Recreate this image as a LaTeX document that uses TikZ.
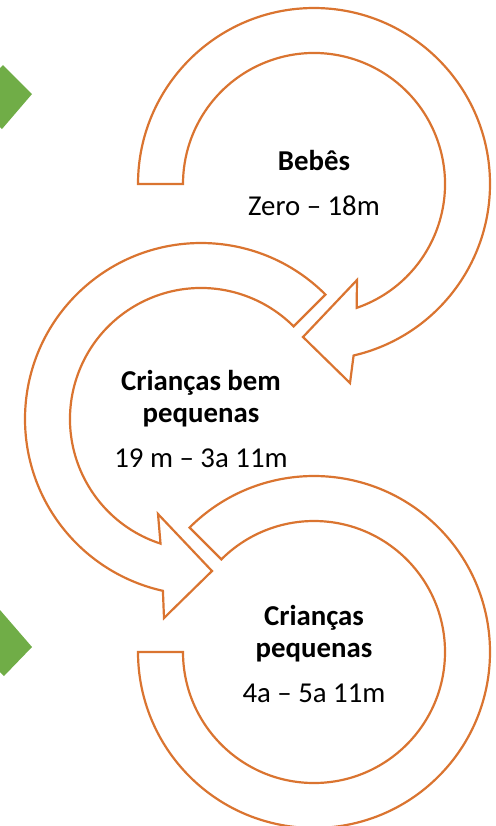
\documentclass[tikz,border=0pt]{standalone}
\usepackage{fontspec}
\setmainfont{Carlito}
\usetikzlibrary{calc}
\definecolor{arrowline}{RGB}{218,116,48}
\definecolor{chevgreen}{RGB}{112,173,71}
\begin{document}
\begin{tikzpicture}[x=0.02cm, y=0.02cm,
    ring/.style={draw=arrowline, line width=1.25pt, fill=white, line join=miter},
    chev/.style={fill=chevgreen},
    stagename/.style={anchor=base, align=center, font=\fontsize{16.4}{18.2}\selectfont\bfseries},
    agespan/.style={anchor=base, font=\fontsize{16.4}{18.2}\selectfont}]
  \useasboundingbox (0,0) rectangle (496,-826);
  \coordinate (c1) at (314,-184);
  \coordinate (c2) at (201,-419);
  \coordinate (c3) at (314,-652);

  % green chevrons on the left edge
  \fill[chev] (0,-68) -- (3,-65) -- (32,-94) -- (2,-129) -- (0,-127) -- cycle;
  \fill[chev] (0,-610) -- (32,-647) -- (4,-676) -- (0,-672) -- cycle;

  % circular arrows
  \draw[ring] ($(c1)+(180:176)$) arc[start angle=180, end angle=-77, radius=176]
    -- (350,-383) -- (303,-337) -- (357,-280)
    -- ($(c1)+(-71:131)$) arc[start angle=-71, end angle=180, radius=131] -- cycle;
  \draw[ring] ($(c2)+(45:176)$) arc[start angle=45, end angle=257.5, radius=176]
    -- (164,-618) -- (212,-571) -- (158,-514)
    -- ($(c2)+(252:131)$) arc[start angle=252, end angle=45, radius=131] -- cycle;
  \draw[ring] ($(c3)+(135:176)$) arc[start angle=135, end angle=-180, radius=176]
    -- ($(c3)+(180:131)$) arc[start angle=-180, end angle=135, radius=131] -- cycle;

  \node[stagename] at (314,-170) (t1) {Bebês};
  \node[agespan] at (314,-215) (r1) {Zero – 18m};
  \node[stagename] at (201,-422) (t2) {Crianças bem\\pequenas};
  \node[agespan] at (201,-467) (r2) {19 m – 3a 11m};
  \node[stagename] at (314,-657) (t3) {Crianças\\pequenas};
  \node[agespan] at (314,-702) (r3) {4a – 5a 11m};
\end{tikzpicture}
\end{document}
